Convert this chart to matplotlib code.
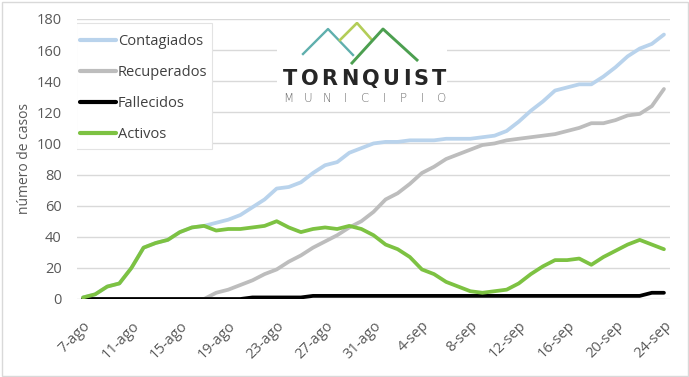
import matplotlib
matplotlib.use("Agg")
import matplotlib.pyplot as plt
from matplotlib.patches import Rectangle

# fechas (una por dia, 7-ago .. 24-sep)
fechas = [f"{d}-ago" for d in range(7, 32)] + [f"{d}-sep" for d in range(1, 25)]

contagiados = [1, 3, 8, 10, 20, 33, 36, 38, 43, 46,
               47, 49, 51, 54, 59, 64, 71, 72, 75, 81,
               86, 88, 94, 97, 100, 101, 101, 102, 102, 102,
               103, 103, 103, 104, 105, 108, 114, 121, 127, 134,
               136, 138, 138, 143, 149, 156, 161, 164, 170]
recuperados = [0, 0, 0, 0, 0, 0, 0, 0, 0, 0,
               0, 4, 6, 9, 12, 16, 19, 24, 28, 33,
               37, 41, 46, 50, 56, 64, 68, 74, 81, 85,
               90, 93, 96, 99, 100, 102, 103, 104, 105, 106,
               108, 110, 113, 113, 115, 118, 119, 124, 135]
fallecidos = [0, 0, 0, 0, 0, 0, 0, 0, 0, 0,
              0, 0, 0, 0, 1, 1, 1, 1, 1, 2,
              2, 2, 2, 2, 2, 2, 2, 2, 2, 2,
              2, 2, 2, 2, 2, 2, 2, 2, 2, 2,
              2, 2, 2, 2, 2, 2, 2, 4, 4]
activos = [1, 3, 8, 10, 20, 33, 36, 38, 43, 46,
           47, 44, 45, 45, 46, 47, 50, 46, 43, 45,
           46, 45, 47, 45, 41, 35, 32, 27, 19, 16,
           11, 8, 5, 4, 5, 6, 10, 16, 21, 25,
           25, 26, 22, 27, 31, 35, 38, 35, 32]

y_ticks = [0, 20, 40, 60, 80, 100, 120, 140, 160, 180]

W, H = 689, 377
fig = plt.figure(figsize=(W / 100, H / 100), dpi=100)
fig.patch.set_facecolor("white")
plt.rcParams["font.family"] = ["Open Sans", "DejaVu Sans"]

ax = fig.add_axes([77 / W, 1 - 299 / H, (670 - 77) / W, (299 - 19) / H])
x = list(range(len(fechas)))
ax.plot(x, contagiados, color="#b9d3ec", lw=2.7, label="Contagiados", solid_capstyle="round")
ax.plot(x, recuperados, color="#bdbdbd", lw=2.7, label="Recuperados", solid_capstyle="round")
ax.plot(x, fallecidos, color="#000000", lw=2.7, label="Fallecidos", solid_capstyle="round")
ax.plot(x, activos, color="#7dc242", lw=2.7, label="Activos", solid_capstyle="round")

ax.set_xlim(-0.5, len(fechas) - 0.5)
ax.set_ylim(0, 180)
ax.set_yticks(y_ticks)
ax.set_xticks(x[::4])
ax.set_xticklabels(fechas[::4], rotation=45, ha="right", va="top",
                   rotation_mode="anchor")
ax.tick_params(axis="both", length=0, labelsize=10.5, labelcolor="#595959")
ax.tick_params(axis="y", pad=11)
ax.tick_params(axis="x", pad=14)
ax.grid(axis="y", color="#d9d9d9", lw=1)
ax.set_axisbelow(True)
for s in ax.spines.values():
    s.set_visible(False)
ax.set_ylabel("número de casos", fontsize=10, color="#595959", labelpad=3)

# marco de la leyenda (caja blanca) y leyenda sin marco encima
ax.add_patch(Rectangle((76 / W, 1 - 149 / H), 136 / W, 126 / H,
                       transform=fig.transFigure, facecolor="white",
                       edgecolor="#e3e3e3", lw=0.8, zorder=4))
leg = ax.legend(loc="upper left",
                bbox_to_anchor=(80 / W, 1 - 34 / H),
                bbox_transform=fig.transFigure,
                fontsize=10.5, frameon=False,
                handlelength=2.5, handletextpad=0.1, labelspacing=1.1,
                borderpad=0, borderaxespad=0)
for t in leg.get_texts():
    t.set_color("#404040")
for h in leg.get_lines():
    h.set_linewidth(3)

# logo del municipio
lx0, lx1, ly0, ly1 = 277, 447, 22, 108
lg = fig.add_axes([lx0 / W, 1 - ly1 / H, (lx1 - lx0) / W, (ly1 - ly0) / H])
lg.set_xlim(lx0, lx1)
lg.set_ylim(ly1, ly0)
lg.set_facecolor("white")
lg.set_xticks([])
lg.set_yticks([])
for s in lg.spines.values():
    s.set_visible(False)
lg.plot([303, 328, 353], [54, 29, 55], color="#5fafad", lw=1.7)
lg.plot([340, 357, 372], [40, 23, 40], color="#b3cd58", lw=1.9)
lg.plot([352, 383, 417], [63, 29, 60], color="#4c9f50", lw=2.1)

# letras con espaciado propio (anchos aproximados en em)
anchos = {"T": 0.68, "O": 0.85, "R": 0.77, "N": 0.84, "Q": 0.85,
          "U": 0.81, "I": 0.37, "S": 0.72}
em = 21.0
gap = (163 - sum(anchos[c] for c in "TORNQUIST") * em) / 8
xpos = 283.0
for ch in "TORNQUIST":
    w = anchos[ch] * em
    lg.text(xpos + w / 2, 79, ch, fontsize=15, fontweight="bold",
            family="DejaVu Sans", color="#262626", ha="center", va="center")
    xpos += w + gap
for i, ch in enumerate("MUNICIPIO"):
    lg.text(288.5 + i * 19.1, 98, ch, fontsize=8.5, family="DejaVu Sans",
            color="#6a6a6a", ha="center", va="center", fontweight="light")

fig.patches.append(Rectangle((1.5 / W, 1.5 / H), 1 - 3 / W, 1 - 3 / H,
                             transform=fig.transFigure, fill=False,
                             edgecolor="#d9d9d9", lw=1))

fig.savefig("out.png", dpi=100)
